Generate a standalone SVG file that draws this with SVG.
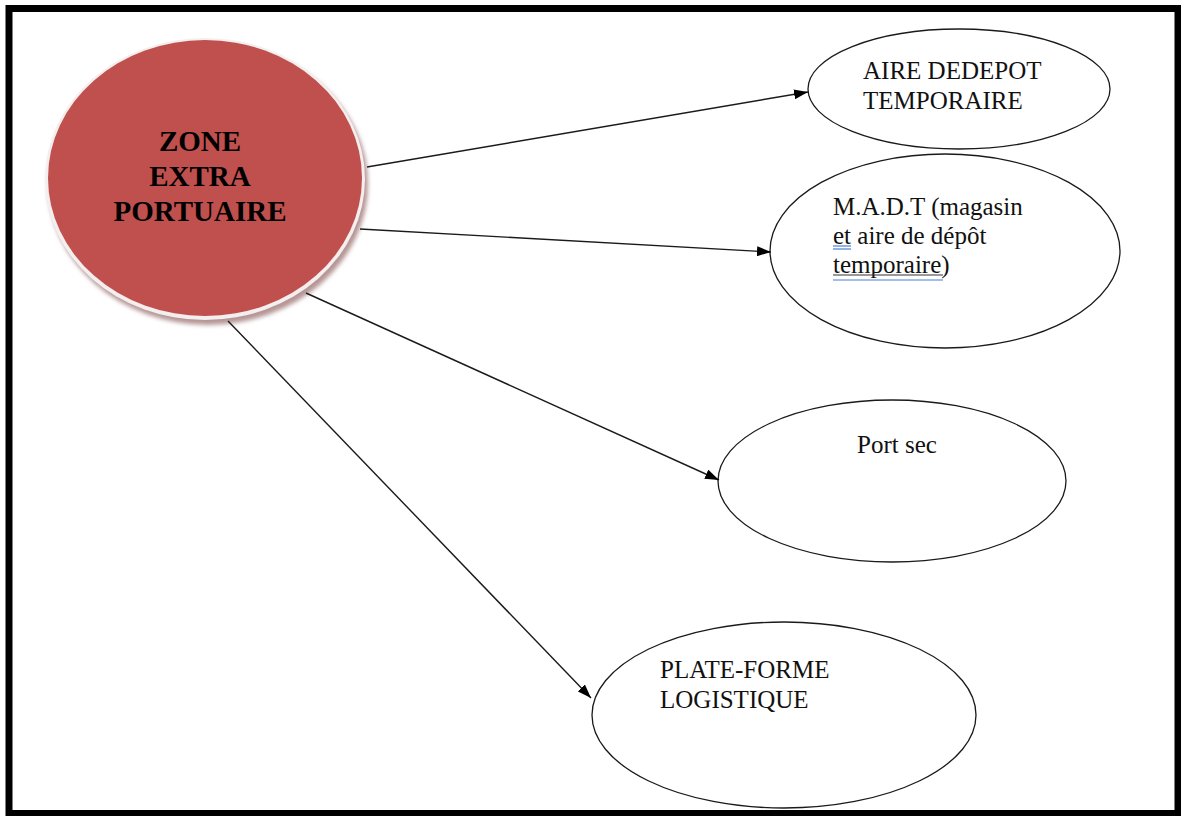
<svg xmlns="http://www.w3.org/2000/svg" width="1181" height="816" viewBox="0 0 1181 816">
  <style>
    .node { fill: #ffffff; stroke: #1a1a1a; stroke-width: 1.3; }
    .label { font-family: "Liberation Serif", "Times New Roman", serif; font-size: 25px; fill: #111111; }
    .hub { font-family: "Liberation Serif", "Times New Roman", serif; font-size: 29px; font-weight: bold; fill: #000000; text-anchor: middle; }
    .conn { stroke: #1a1a1a; stroke-width: 1.4; fill: none; marker-end: url(#arrow); }
    .spell { stroke: #4a7fd9; stroke-width: 1.2; }
  </style>
  <defs>
    <marker id="arrow" viewBox="0 0 14 10" refX="14" refY="5" markerWidth="14" markerHeight="10" markerUnits="userSpaceOnUse" orient="auto">
      <path d="M0,0 L14,5 L0,10 Z" fill="#000000"/>
    </marker>
    <filter id="soft" x="-10%" y="-10%" width="120%" height="120%">
      <feGaussianBlur stdDeviation="2"/>
    </filter>
  </defs>

  <rect x="0" y="0" width="1181" height="816" fill="#ffffff"/>
  <!-- page frame -->
  <rect x="9" y="8.5" width="1169" height="805" fill="none" stroke="#000000" stroke-width="7"/>

  <!-- central node -->
  <g id="zone-extra-portuaire">
    <ellipse cx="208" cy="184" rx="160" ry="141" fill="#b59595" filter="url(#soft)"/>
    <ellipse cx="205" cy="179" rx="160" ry="141" fill="#f4eeee"/>
    <ellipse cx="205" cy="178" rx="157" ry="138" fill="#c0504d"/>
    <text class="hub" x="200" y="151">ZONE</text>
    <text class="hub" x="200" y="186">EXTRA</text>
    <text class="hub" x="200" y="221">PORTUAIRE</text>
  </g>

  <g id="aire-de-depot">
    <ellipse class="node" cx="959" cy="89" rx="151" ry="60"/>
    <text class="label" x="863" y="79">AIRE DEDEPOT</text>
    <text class="label" x="863" y="109">TEMPORAIRE</text>
  </g>

  <g id="madt">
    <ellipse class="node" cx="945" cy="251" rx="175" ry="97"/>
    <text class="label" x="833" y="215">M.A.D.T (magasin</text>
    <text class="label" x="833" y="244">et aire de dépôt</text>
    <text class="label" x="833" y="273">temporaire)</text>
    <line class="spell" x1="833" y1="246" x2="851" y2="246"/>
    <line class="spell" x1="833" y1="249" x2="851" y2="249"/>
    <line x1="833" y1="275" x2="943" y2="275" stroke="#333333" stroke-width="1"/>
    <line class="spell" x1="833" y1="280" x2="943" y2="280"/>
  </g>

  <g id="port-sec">
    <ellipse class="node" cx="892" cy="481" rx="174" ry="81"/>
    <text class="label" x="857" y="453">Port sec</text>
  </g>

  <g id="plate-forme">
    <ellipse class="node" cx="784" cy="715" rx="192" ry="93"/>
    <text class="label" x="660" y="678">PLATE-FORME</text>
    <text class="label" x="660" y="708">LOGISTIQUE</text>
  </g>

  <g id="connectors">
    <line class="conn" x1="367" y1="167" x2="808" y2="92"/>
    <line class="conn" x1="360" y1="229" x2="771" y2="252"/>
    <line class="conn" x1="306" y1="293" x2="719" y2="480"/>
    <line class="conn" x1="228" y1="321" x2="591" y2="698"/>
  </g>
</svg>
